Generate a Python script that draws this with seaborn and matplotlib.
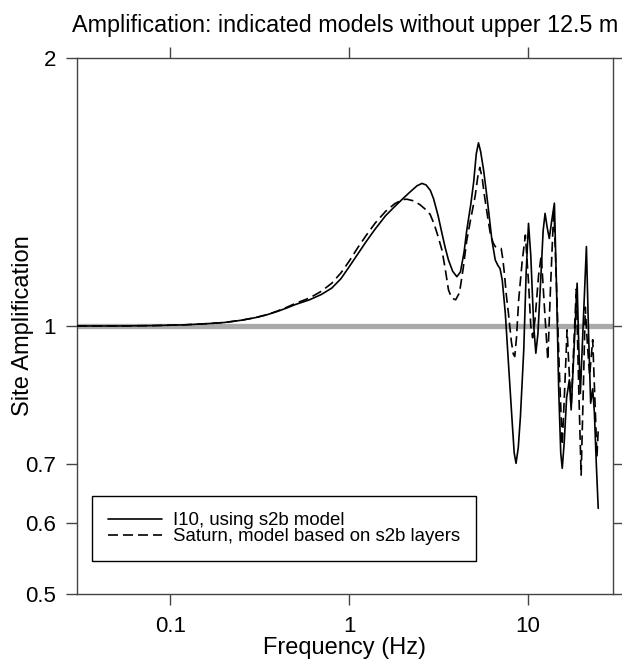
import numpy as np
import pandas as pd
import seaborn as sns
import matplotlib
matplotlib.use("Agg")
import matplotlib.pyplot as plt
from matplotlib.ticker import NullLocator

# I10 curve (solid)
freq_i10 = [0.03, 0.05, 0.08, 0.12, 0.16, 0.2, 0.25, 0.3, 0.35, 0.4, 0.45, 0.5,
            0.6, 0.7, 0.8, 0.9, 1.0, 1.12, 1.25, 1.4, 1.6, 1.8, 2.0, 2.2,
            2.4, 2.56, 2.7, 2.85, 2.97, 3.15, 3.31, 3.45, 3.6, 3.8, 4.01, 4.2,
            4.4, 4.56, 4.8, 4.98, 5.15, 5.3, 5.45, 5.66, 5.85, 6.03, 6.3, 6.58,
            6.8, 7.0, 7.2, 7.49, 7.8, 8.17, 8.4, 8.6, 8.85, 9.1, 9.5, 9.8,
            10.1, 10.4, 10.8, 11.1, 11.4, 11.8, 12.2, 12.5, 12.85, 13.2, 13.6, 14.1,
            14.5, 14.9, 15.3, 15.6, 16.0, 16.5, 17.1, 17.5, 18.2, 18.9, 19.3, 19.7,
            20.5, 21.3, 21.9, 22.5, 23.1, 23.6, 24.2, 24.8]
amp_i10 = [1.000, 1.000, 1.001, 1.003, 1.006, 1.009, 1.015, 1.022, 1.030, 1.039, 1.048, 1.057,
           1.070, 1.085, 1.103, 1.130, 1.165, 1.205, 1.245, 1.285, 1.33, 1.362, 1.39, 1.415,
           1.437, 1.446, 1.44, 1.42, 1.39, 1.33, 1.271, 1.225, 1.186, 1.152, 1.136, 1.15,
           1.21, 1.282, 1.37, 1.45, 1.56, 1.606, 1.57, 1.497, 1.42, 1.35, 1.249, 1.186,
           1.17, 1.16, 1.126, 1.033, 0.908, 0.784, 0.72, 0.701, 0.73, 0.791, 0.94, 1.15,
           1.304, 1.20, 1.00, 0.932, 0.98, 1.12, 1.28, 1.338, 1.29, 1.254, 1.31, 1.374,
           1.10, 0.85, 0.72, 0.692, 0.74, 0.83, 0.870, 0.805, 0.95, 1.117, 0.95, 0.84,
           1.02, 1.228, 0.98, 0.819, 0.85, 0.80, 0.70, 0.624]

# Saturn curve (dashed)
freq_sat = [0.03, 0.05, 0.08, 0.12, 0.16, 0.2, 0.25, 0.3, 0.35, 0.4, 0.45, 0.5,
            0.6, 0.7, 0.8, 0.9, 1.0, 1.12, 1.25, 1.4, 1.6, 1.8, 2.0, 2.11,
            2.3, 2.5, 2.7, 2.84, 3.0, 3.15, 3.31, 3.45, 3.6, 3.75, 3.95, 4.15,
            4.35, 4.56, 4.8, 5.08, 5.25, 5.39, 5.55, 5.7, 5.95, 6.17, 6.4, 6.58,
            6.85, 7.1, 7.25, 7.4, 7.6, 7.8, 8.1, 8.3, 8.46, 8.65, 8.9, 9.3,
            9.7, 10.1, 10.4, 10.65, 11.0, 11.5, 11.9, 12.4, 12.95, 13.4, 14.0, 14.4,
            15.0, 15.6, 16.1, 16.6, 17.0, 17.5, 18.1, 18.7, 19.3, 19.9, 20.5, 21.0,
            21.6, 22.2, 23.1, 23.8, 24.4, 24.8]
amp_sat = [1.000, 1.000, 1.001, 1.003, 1.006, 1.009, 1.015, 1.022, 1.030, 1.040, 1.050, 1.060,
           1.075, 1.094, 1.117, 1.147, 1.182, 1.225, 1.265, 1.305, 1.345, 1.372, 1.387, 1.388,
           1.382, 1.368, 1.35, 1.335, 1.30, 1.26, 1.217, 1.16, 1.098, 1.075, 1.07, 1.09,
           1.16, 1.249, 1.32, 1.40, 1.47, 1.507, 1.47, 1.409, 1.33, 1.271, 1.24, 1.228,
           1.223, 1.222, 1.19, 1.146, 1.08, 1.033, 0.96, 0.93, 0.924, 0.97, 1.07, 1.18,
           1.265, 1.12, 1.00, 0.97, 1.02, 1.14, 1.20, 1.05, 0.916, 1.10, 1.36, 1.15,
           0.9, 0.735, 0.85, 0.99, 0.90, 0.81, 0.95, 1.10, 0.85, 0.68, 0.86, 1.05,
           0.95, 0.88, 0.965, 0.82, 0.713, 0.764]

x_ticks = [0.1, 1, 10]
x_labels = ["0.1", "1", "10"]
y_ticks = [0.5, 0.6, 0.7, 1, 2]
y_labels = ["0.5", "0.6", "0.7", "1", "2"]

sns.set_theme(style="ticks")
plt.rcParams["font.family"] = ["Liberation Sans", "DejaVu Sans"]
plt.rcParams["text.color"] = "black"
plt.rcParams["axes.labelcolor"] = "black"

fig = plt.figure(figsize=(6.22, 6.68), dpi=100)
ax = fig.add_axes([0.1238, 0.1108, 0.8617, 0.8024])

# reference line at amplification 1
ax.axhline(1, color="#a9a9a9", lw=3.8, zorder=1)

sns.lineplot(x=freq_i10, y=amp_i10, ax=ax, color="black", lw=1.2,
             label="I10, using s2b model", zorder=3)
sns.lineplot(x=freq_sat, y=amp_sat, ax=ax, color="black", lw=1.2,
             linestyle=(0, (6, 3)), label="Saturn, model based on s2b layers", zorder=3)

ax.set_xscale("log")
ax.set_yscale("log")
ax.set_xlim(0.03, 30)
ax.set_ylim(0.5, 2)
ax.xaxis.set_minor_locator(NullLocator())
ax.yaxis.set_minor_locator(NullLocator())
ax.set_xticks(x_ticks)
ax.set_xticklabels(x_labels)
ax.set_yticks(y_ticks)
ax.set_yticklabels(y_labels)

for s in ax.spines.values():
    s.set_color("#444444")
    s.set_linewidth(1.0)
ax.tick_params(which="both", top=True, right=True, direction="out", length=8,
               width=1.0, color="#444444", labelcolor="black", labelsize=16)
ax.tick_params(axis="x", pad=8)
ax.tick_params(axis="y", pad=7)

ax.set_xlabel("Frequency (Hz)", fontsize=17, labelpad=0)
ax.set_ylabel("Site Amplification", fontsize=17, labelpad=-6)
ax.set_title("Amplification: indicated models without upper 12.5 m", fontsize=16.8, pad=19)

leg = ax.legend(loc="lower left", bbox_to_anchor=(0.028, 0.0616), borderaxespad=0,
                fontsize=13.4, frameon=True, fancybox=False, framealpha=1,
                edgecolor="black", handlelength=2.9, handletextpad=0.6,
                labelspacing=-0.05, borderpad=0.85)
leg.get_frame().set_linewidth(1.0)
for t in leg.get_texts():
    t.set_color("black")

fig.savefig("out.png", dpi=100)
